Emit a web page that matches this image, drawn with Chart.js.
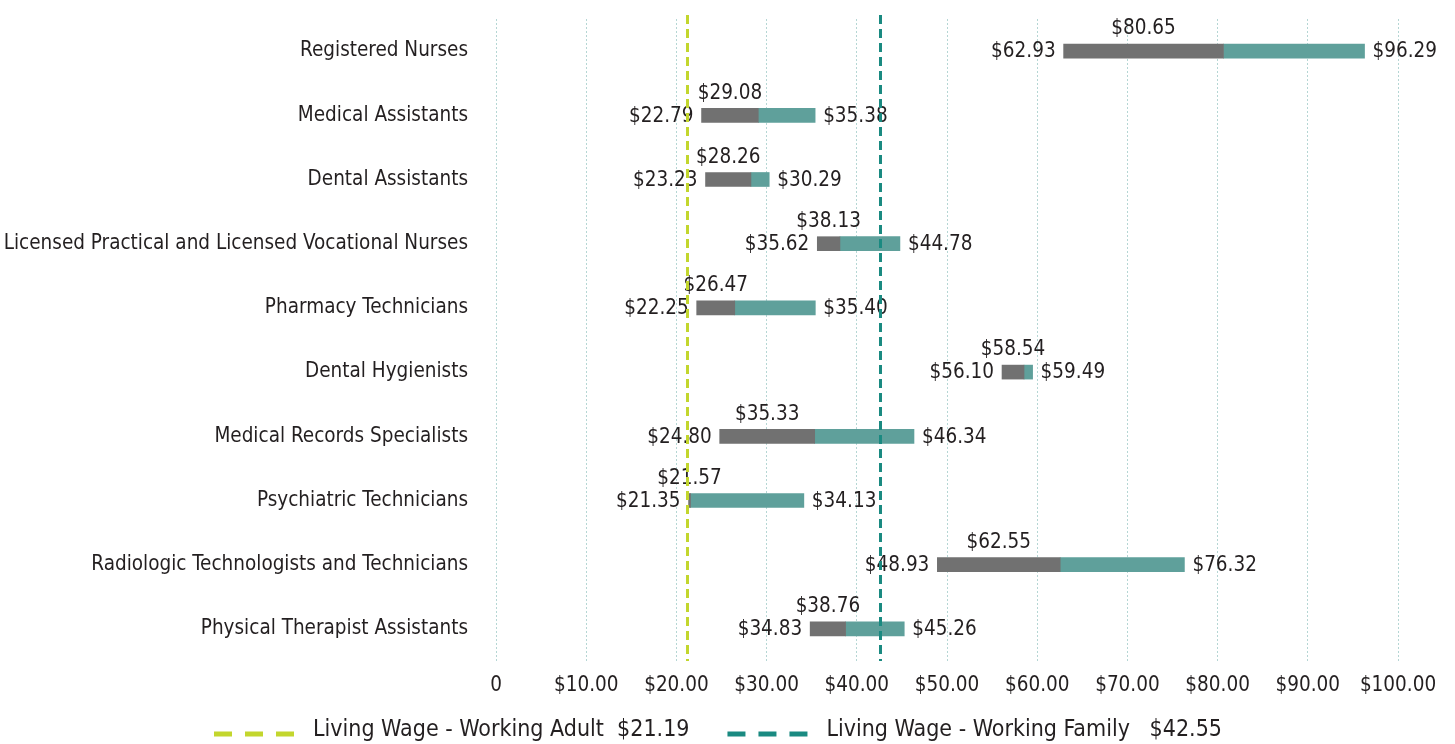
<!DOCTYPE html>
<html>
<head>
<meta charset="utf-8">
<script src="https://cdn.jsdelivr.net/npm/chart.js@4.4.1/dist/chart.umd.min.js"></script>
<style>
  html, body { margin: 0; padding: 0; background: #ffffff; }
  #c { display: block; }
</style>
</head>
<body>
<canvas id="c" width="1455" height="744"></canvas>
<script>
const categories = [
  'Registered Nurses',
  'Medical Assistants',
  'Dental Assistants',
  'Licensed Practical and Licensed Vocational Nurses',
  'Pharmacy Technicians',
  'Dental Hygienists',
  'Medical Records Specialists',
  'Psychiatric Technicians',
  'Radiologic Technologists and Technicians',
  'Physical Therapist Assistants'
];
const lowWage    = [62.93, 22.79, 23.23, 35.62, 22.25, 56.10, 24.80, 21.35, 48.93, 34.83];
const medianWage = [80.65, 29.08, 28.26, 38.13, 26.47, 58.54, 35.33, 21.57, 62.55, 38.76];
const highWage   = [96.29, 35.38, 30.29, 44.78, 35.40, 59.49, 46.34, 34.13, 76.32, 45.26];
const xTickValues = [0, 10, 20, 30, 40, 50, 60, 70, 80, 90, 100];
const livingWageNames  = ['Living Wage - Working Adult', 'Living Wage - Working Family'];
const livingWageValues = [21.19, 42.55];
const livingWageSpacer = ['  ', '   '];

const FONT_FAMILY = "'DejaVu Sans Condensed', 'Liberation Sans Narrow', 'Noto Sans', sans-serif";
const FONT_SIZE = 20.5;
const LEGEND_FONT_SIZE = 23;
const TEXT_COLOR = '#231f20';
const GRAY = '#717171';
const TEAL = '#5fa09b';
const LINE_COLORS = ['#c3d62d', '#1a8a81'];

const money = v => '$' + v.toFixed(2);

const labelsPlugin = {
  id: 'wageLabels',
  afterDatasetsDraw(chart) {
    const ctx = chart.ctx;
    const xs = chart.scales.x;
    const ys = chart.scales.y;
    const area = chart.chartArea;
    ctx.save();
    ctx.font = FONT_SIZE + 'px ' + FONT_FAMILY;
    ctx.fillStyle = TEXT_COLOR;
    ctx.textBaseline = 'middle';
    categories.forEach((c, i) => {
      const y = ys.getPixelForValue(i);
      const xl = xs.getPixelForValue(lowWage[i]);
      const xm = xs.getPixelForValue(medianWage[i]);
      const xh = xs.getPixelForValue(highWage[i]);
      ctx.textAlign = 'right';
      ctx.fillText(money(lowWage[i]), xl - 8, y + 1);
      ctx.textAlign = 'left';
      ctx.fillText(money(highWage[i]), xh + 8, y + 1);
      ctx.textAlign = 'center';
      ctx.fillText(money(medianWage[i]), (xl + xm) / 2, y - 22);
    });
    // living wage reference lines
    ctx.lineWidth = 3;
    ctx.setLineDash([9, 5]);
    livingWageValues.forEach((v, k) => {
      const x = Math.round(xs.getPixelForValue(v)) + 0.5;
      ctx.strokeStyle = LINE_COLORS[k];
      ctx.beginPath();
      ctx.moveTo(x, area.top - 4);
      ctx.lineTo(x, area.bottom);
      ctx.stroke();
    });
    ctx.restore();
  },
  afterDraw(chart) {
    const ctx = chart.ctx;
    ctx.save();
    ctx.font = LEGEND_FONT_SIZE + 'px ' + FONT_FAMILY;
    const texts = livingWageNames.map((n, k) => n + livingWageSpacer[k] + money(livingWageValues[k]));
    const markW = 80, gapText = 19, gapItem = 38;
    const widths = texts.map(t => ctx.measureText(t).width);
    const total = widths.reduce((a, w) => a + markW + gapText + w, 0) + gapItem * (texts.length - 1);
    let x = 718 - total / 2;
    const y = chart.height - 14;
    texts.forEach((t, k) => {
      ctx.strokeStyle = LINE_COLORS[k];
      ctx.lineWidth = 5;
      ctx.setLineDash([18, 13]);
      ctx.beginPath();
      ctx.moveTo(x, y + 4);
      ctx.lineTo(x + markW, y + 4);
      ctx.stroke();
      ctx.setLineDash([]);
      ctx.fillStyle = TEXT_COLOR;
      ctx.textAlign = 'left';
      ctx.textBaseline = 'middle';
      ctx.fillText(t, x + markW + gapText, y);
      x += markW + gapText + widths[k] + gapItem;
    });
    ctx.restore();
  }
};

new Chart(document.getElementById('c'), {
  type: 'bar',
  data: {
    labels: categories,
    datasets: [
      {
        label: 'Low to median',
        data: categories.map((c, i) => [lowWage[i], medianWage[i]]),
        backgroundColor: GRAY,
        barThickness: 14,
        grouped: false
      },
      {
        label: 'Median to high',
        data: categories.map((c, i) => [medianWage[i], highWage[i]]),
        backgroundColor: TEAL,
        barThickness: 14,
        grouped: false
      }
    ]
  },
  options: {
    indexAxis: 'y',
    responsive: false,
    animation: false,
    devicePixelRatio: 1,
    layout: { padding: { top: 19, right: 57, left: 0, bottom: 0 } },
    plugins: {
      legend: { display: false },
      tooltip: { enabled: false }
    },
    scales: {
      x: {
        type: 'linear',
        min: 0,
        max: 100,
        afterBuildTicks: s => { s.ticks = xTickValues.map(v => ({ value: v })); },
        afterFit: s => { s.height = 83; },
        grid: { color: '#b5d6d4', lineWidth: 1, drawTicks: false },
        border: { display: false, dash: [2, 2] },
        ticks: {
          padding: 12,
          color: TEXT_COLOR,
          font: { family: FONT_FAMILY, size: FONT_SIZE },
          callback: v => v === 0 ? '0' : money(v),
          maxRotation: 0,
          autoSkip: false
        }
      },
      y: {
        type: 'category',
        afterFit: s => { s.width = 496; s.paddingTop = 0; s.paddingBottom = 0; },
        grid: { display: false, drawTicks: false },
        border: { display: false },
        ticks: {
          padding: 28,
          color: TEXT_COLOR,
          font: { family: FONT_FAMILY, size: FONT_SIZE }
        }
      }
    }
  },
  plugins: [labelsPlugin]
});
</script>
</body>
</html>
